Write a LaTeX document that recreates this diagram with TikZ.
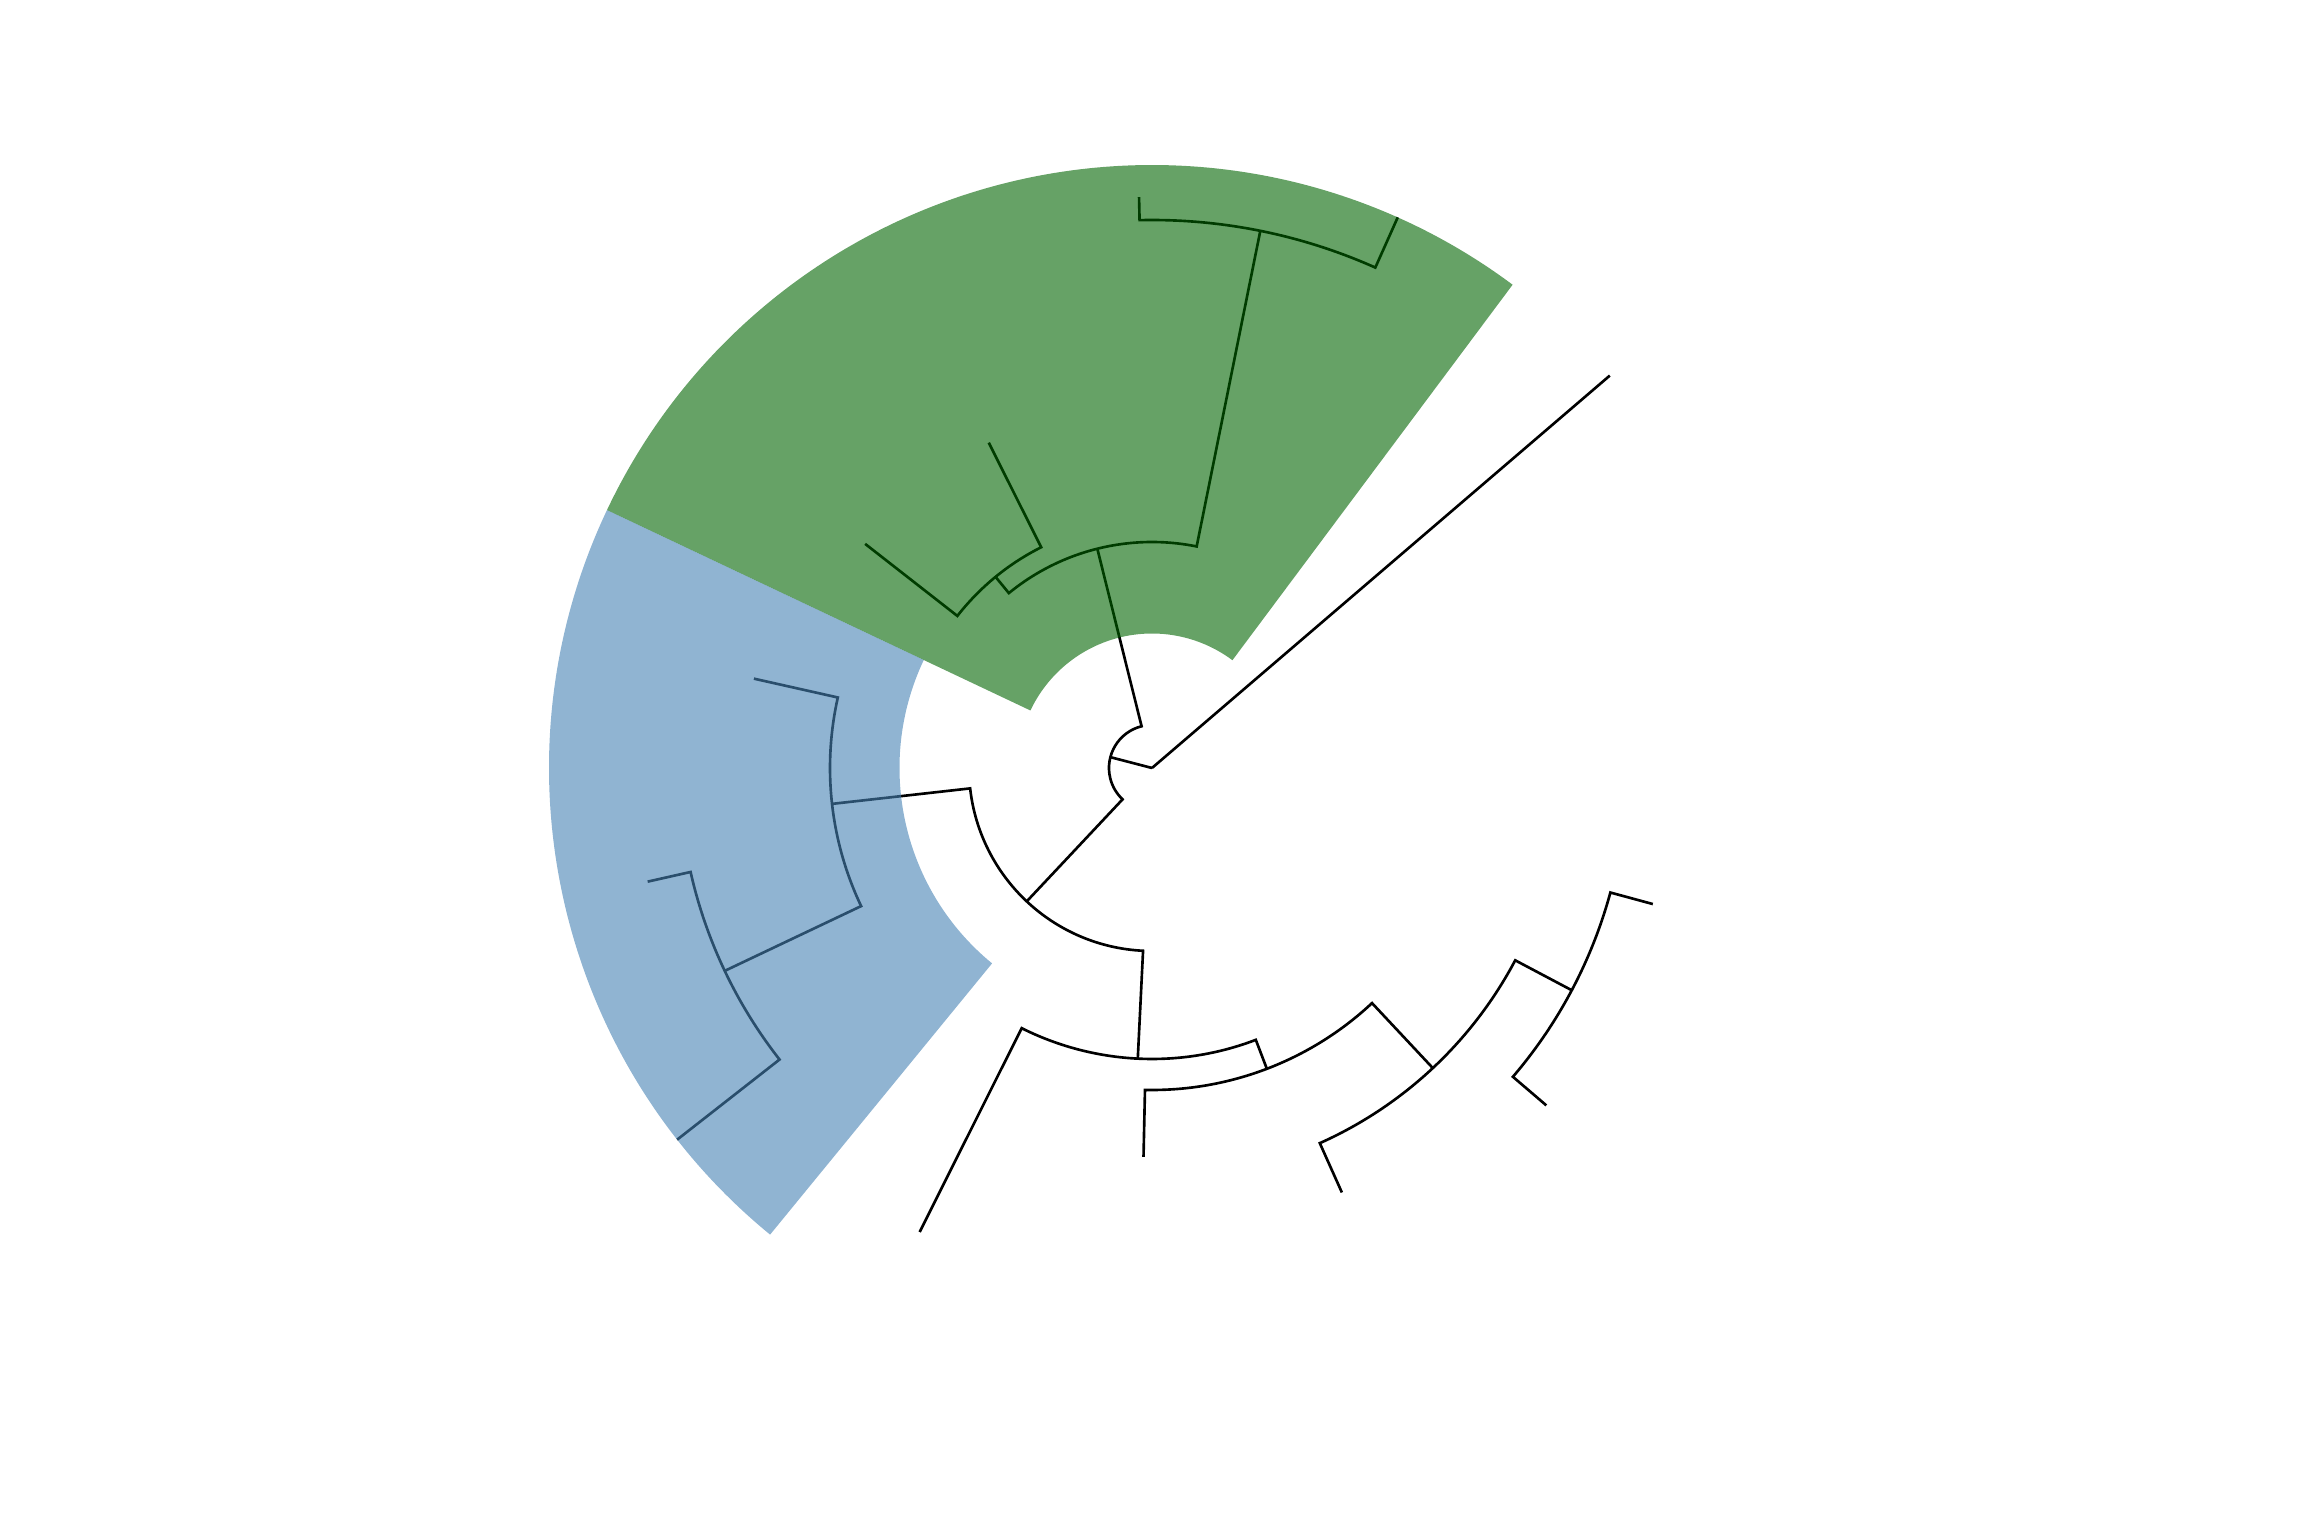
\documentclass[tikz,border=0pt]{standalone}
\usepackage{tikz}
\usetikzlibrary{calc}
\definecolor{cladegreen}{RGB}{0,100,0}
\definecolor{cladeblue}{RGB}{70,130,180}

\begin{document}
\begin{tikzpicture}[
    branch/.style={line width=0.75pt, black},
    greenclade/.style={fill=cladegreen, fill opacity=0.6},
    blueclade/.style={fill=cladeblue, fill opacity=0.6}
]
    \useasboundingbox (-11.52,-7.68) rectangle (11.52,7.68);

    % Tips
    \coordinate (t0) at (40.6:6.03);
    \coordinate (t1) at (65.95:6.03);
    \coordinate (t2) at (91.3:5.71);
    \coordinate (t3) at (116.65:3.64);
    \coordinate (t4) at (142.0:3.64);
    \coordinate (t5) at (167.35:4.08);
    \coordinate (t6) at (192.7:5.17);
    \coordinate (t7) at (218.05:6.03);
    \coordinate (t8) at (243.4:5.19);
    \coordinate (t9) at (268.75:3.89);
    \coordinate (t10) at (294.1:4.65);
    \coordinate (t11) at (319.45:5.19);
    \coordinate (t12) at (344.8:5.19);

    % Internal nodes
    \coordinate (root) at (0,0);
    \coordinate (inner) at (165.4:0.43);
    \coordinate (ng) at (104.0:2.26);
    \coordinate (ng1) at (78.6:5.48);
    \coordinate (ng2) at (129.3:2.47);
    \coordinate (nb) at (226.8:1.83);
    \coordinate (nb1) at (186.4:3.22);
    \coordinate (nb11) at (205.4:4.73);
    \coordinate (nc) at (267.2:2.91);
    \coordinate (nc1) at (290.9:3.22);
    \coordinate (nc2) at (313.1:4.11);
    \coordinate (nc3) at (332.1:4.75);

    % Branches
    \draw[branch] (root) -- (t0);
    \draw[branch] (root) -- (inner);
    \draw[branch] (ng) -- (104.0:0.43) arc[start angle=104.0, end angle=226.8, radius=0.43] -- (nb);

    \draw[branch] (ng1) -- (78.6:2.26) arc[start angle=78.6, end angle=129.3, radius=2.26] -- (ng2);
    \draw[branch] (t1) -- (65.95:5.48) arc[start angle=65.95, end angle=91.3, radius=5.48] -- (t2);
    \draw[branch] (t3) -- (116.65:2.47) arc[start angle=116.65, end angle=142.0, radius=2.47] -- (t4);

    \draw[branch] (nb1) -- (186.4:1.83) arc[start angle=186.4, end angle=267.2, radius=1.83] -- (nc);
    \draw[branch] (t5) -- (167.35:3.22) arc[start angle=167.35, end angle=205.4, radius=3.22] -- (nb11);
    \draw[branch] (t6) -- (192.7:4.73) arc[start angle=192.7, end angle=218.05, radius=4.73] -- (t7);

    \draw[branch] (t8) -- (243.4:2.91) arc[start angle=243.4, end angle=290.9, radius=2.91] -- (nc1);
    \draw[branch] (t9) -- (268.75:3.22) arc[start angle=268.75, end angle=313.1, radius=3.22] -- (nc2);
    \draw[branch] (t10) -- (294.1:4.11) arc[start angle=294.1, end angle=332.1, radius=4.11] -- (nc3);
    \draw[branch] (t11) -- (319.45:4.75) arc[start angle=319.45, end angle=344.8, radius=4.75] -- (t12);

    % Highlighted clades
    \fill[greenclade] (53.27:1.345) arc[start angle=53.27, end angle=154.68, radius=1.345]
        -- (154.68:6.03) arc[start angle=154.68, end angle=53.27, radius=6.03] -- cycle;
    \fill[blueclade] (154.68:2.525) arc[start angle=154.68, end angle=230.7, radius=2.525]
        -- (230.7:6.03) arc[start angle=230.7, end angle=154.68, radius=6.03] -- cycle;
\end{tikzpicture}
\end{document}
